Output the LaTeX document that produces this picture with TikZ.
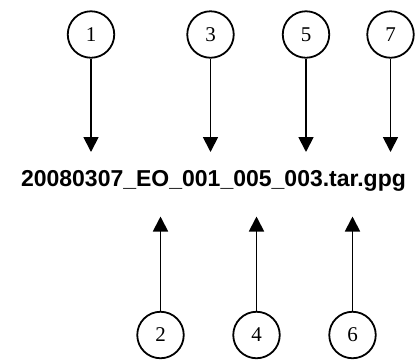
\documentclass[tikz,border=0pt]{standalone}
\usepackage{fontspec}
\setmainfont{Liberation Serif}
\newfontfamily\labelfont{Liberation Sans}
\usetikzlibrary{arrows.meta}
\begin{document}
\begin{tikzpicture}[x=1pt,y=-1pt,
  numcircle/.style={circle,draw,line width=1.8pt,minimum size=46.5pt,inner sep=0pt,font=\fontsize{21}{21}\selectfont},
  pointer/.style={line width=1.8pt,-{Triangle[length=15pt,width=15pt]}},
  fname/.style={font=\labelfont\bfseries\fontsize{23}{23}\selectfont,inner sep=0pt,anchor=base}]
\useasboundingbox (0,0) rectangle (417,360);
\node[fname] (name) at (213.5,186.5) {20080307\_EO\_001\_005\_003.tar.gpg};
% top circles
\node[numcircle] (c1) at (91,34.5) {1};
\node[numcircle] (c3) at (210.5,34.5) {3};
\node[numcircle] (c5) at (306,34.5) {5};
\node[numcircle] (c7) at (390.5,34.5) {7};
% bottom circles
\node[numcircle] (c2) at (160.5,335) {2};
\node[numcircle] (c4) at (256.5,335) {4};
\node[numcircle] (c6) at (352.5,335) {6};
% arrow ends
\coordinate (t1) at (91,152);
\coordinate (t3) at (210.5,152);
\coordinate (t5) at (306,152);
\coordinate (t7) at (390.5,152);
\coordinate (b2) at (160.5,216.5);
\coordinate (b4) at (256.5,216.5);
\coordinate (b6) at (352.5,216.5);
\draw[pointer] (c1.south) -- (t1);
\draw[pointer] (c3.south) -- (t3);
\draw[pointer] (c5.south) -- (t5);
\draw[pointer] (c7.south) -- (t7);
\draw[pointer] (c2.north) -- (b2);
\draw[pointer] (c4.north) -- (b4);
\draw[pointer] (c6.north) -- (b6);
\end{tikzpicture}
\end{document}
